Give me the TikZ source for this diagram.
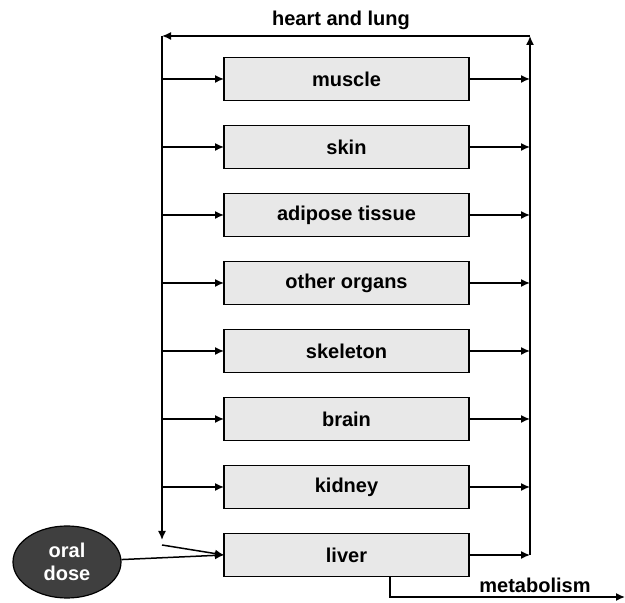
\documentclass[tikz,border=0pt]{standalone}
\usepackage{fontspec}
\setmainfont{Liberation Sans}
\usepackage{tikz}
\usetikzlibrary{arrows.meta,positioning,calc,shapes.geometric}
\definecolor{boxfill}{HTML}{E8E8E8}
\definecolor{dosefill}{HTML}{3F3F3F}

\begin{document}
\begin{tikzpicture}[font=\fontsize{10}{11.5}\selectfont\bfseries,>={Latex[length=4.5pt,width=4pt]},
  node distance=12.5pt,
  org/.style={draw,line width=0.9pt,fill=boxfill,minimum width=122.5pt,minimum height=21.5pt,outer sep=0pt,inner sep=0pt},
  ln/.style={->,line width=0.75pt},
  lbl/.style={inner sep=1pt}]
\useasboundingbox (0,0) rectangle (312.5pt,301.5pt);
\node[org] (mus) at (173.25pt,262pt) {muscle};
\node[org,below=of mus] (skn) {skin};
\node[org,below=of skn] (adp) {adipose tissue};
\node[org,below=of adp] (oth) {other organs};
\node[org,below=of oth] (skl) {skeleton};
\node[org,below=of skl] (brn) {brain};
\node[org,below=of brn] (kid) {kidney};
\node[org,below=of kid] (liv) {liver};
\node[ellipse,draw,line width=0.6pt,fill=dosefill,text=white,align=center,
  minimum width=54pt,minimum height=36pt,inner sep=0pt] (oral) at (33.5pt,20.5pt) {oral\\dose};

\coordinate (tl) at (81pt,283.5pt);
\coordinate (tr) at (265pt,283.5pt);
\coordinate (bl) at (81pt,31.5pt);
\coordinate (in) at (81pt,29pt);
\coordinate (br) at (liv.east -| tr);
\coordinate (met) at (312.5pt,3pt);
\node[lbl] (hl) at (170.5pt,291.5pt) {heart and lung};
\node[lbl] (metl) at (267.5pt,9pt) {metabolism};

% circulation loop
\draw[ln] (br) -- (tr);
\draw[ln] (tr) -- (tl);
\draw[ln] (tl) -- (bl);

% arterial side
\draw[ln] (tl |- mus) -- (mus);
\draw[ln] (tl |- skn) -- (skn);
\draw[ln] (tl |- adp) -- (adp);
\draw[ln] (tl |- oth) -- (oth);
\draw[ln] (tl |- skl) -- (skl);
\draw[ln] (tl |- brn) -- (brn);
\draw[ln] (tl |- kid) -- (kid);
\draw[ln] (in) -- (liv.west);
\draw[ln] (oral) -- (liv.west);

% venous side
\draw[ln] (mus) -- (mus -| tr);
\draw[ln] (skn) -- (skn -| tr);
\draw[ln] (adp) -- (adp -| tr);
\draw[ln] (oth) -- (oth -| tr);
\draw[ln] (skl) -- (skl -| tr);
\draw[ln] (brn) -- (brn -| tr);
\draw[ln] (kid) -- (kid -| tr);
\draw[ln] (liv) -- (br);

\draw[ln] ([xshift=21.75pt]liv.south) |- (met);
\end{tikzpicture}
\end{document}
